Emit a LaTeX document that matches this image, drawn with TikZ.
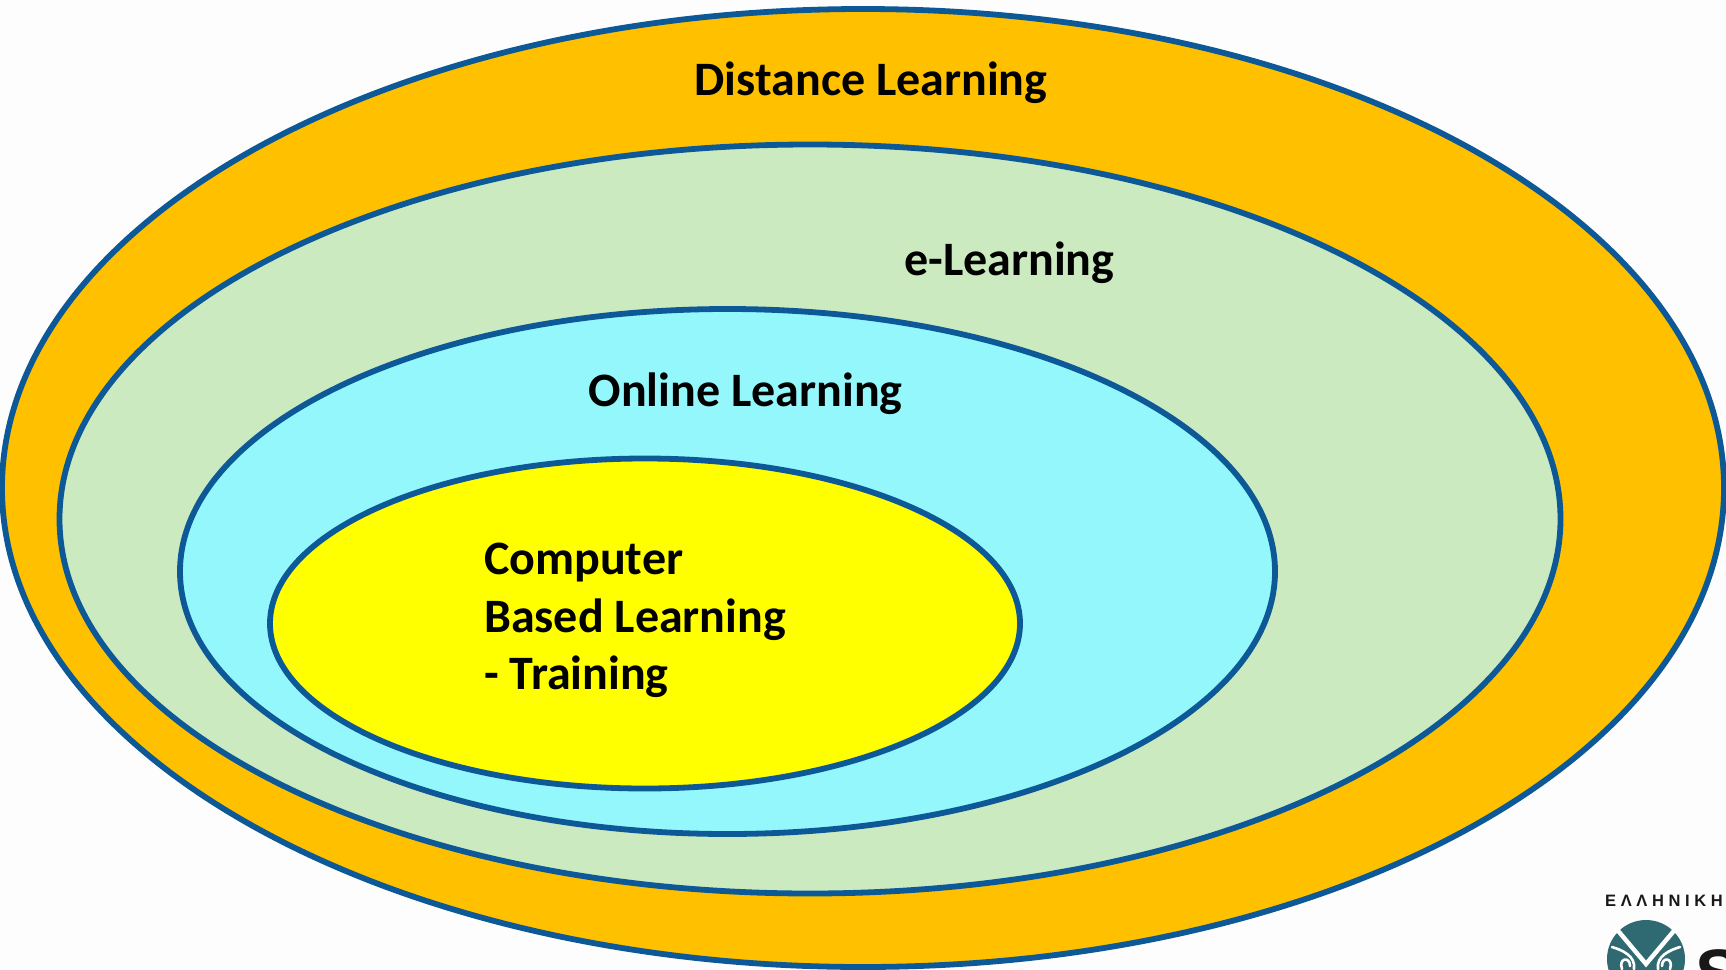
\documentclass[tikz,border=0pt]{standalone}
\usepackage{fontspec}
\setmainfont{Carlito}
\newfontfamily\logofont[LetterSpace=28]{Liberation Sans}
\newfontfamily\logobig{Liberation Sans}
\definecolor{bgc}{HTML}{FDFDFD}
\definecolor{edge}{HTML}{0D5896}
\definecolor{cOuter}{HTML}{FFC000}
\definecolor{cE}{HTML}{CCEAC0}
\definecolor{cOn}{HTML}{93F7FC}
\definecolor{cY}{HTML}{FFFF00}
\definecolor{teal}{HTML}{2F6A72}
\definecolor{ink}{HTML}{1A1718}
\tikzset{
  ring/.style={draw=edge,line width=5.8pt},
  lab/.style={font=\fontsize{48}{57.5}\selectfont\bfseries,text=black,inner sep=0pt,anchor=base west,align=left},
  scroll/.style={draw=white,line width=2.6pt,line cap=round}
}
\begin{document}
\begin{tikzpicture}[x=1pt,y=-1pt]
\useasboundingbox (0,0) rectangle (1726,969);
\clip (0,0) rectangle (1726,969);
\fill[bgc] (0,0) rectangle (1726,969);
\draw[ring,fill=cOuter] (863,488) ellipse [x radius=861,y radius=479];
\draw[ring,fill=cE] (810,519) ellipse [x radius=750.5,y radius=374.5];
\draw[ring,fill=cOn] (727.5,571.5) ellipse [x radius=547.5,y radius=262.5];
\draw[ring,fill=cY] (645,623.5) ellipse [x radius=375,y radius=165];
\node[lab] (distance) at (694.5,95) {Distance Learning};
\node[lab] (elearn) at (904,275) {e-Learning};
\node[lab] (online) at (588.5,406.5) {Online Learning};
\node[lab] (computer) at (484,689.5) {Computer\\Based Learning\\- Training};
% logo
\node[font=\fontsize{16.5}{16.5}\selectfont\logofont\bfseries,inner sep=0pt,anchor=base west,text=ink] (logotext) at (1605,906.5) {ΕΛΛΗΝΙΚΗ};
\fill[teal] (1646,959) circle [radius=39];
\draw[white,line width=4.4pt] (1614,926) -- (1646,964) -- (1678,926);
\draw[scroll] (1612,947) .. controls (1622,950) and (1636,956) .. (1634,969);
\draw[scroll] (1622,969) .. controls (1618,958) and (1630,956) .. (1630,966);
\draw[scroll] (1680,947) .. controls (1670,950) and (1656,956) .. (1658,969);
\draw[scroll] (1670,969) .. controls (1674,958) and (1662,956) .. (1662,966);
\node[font=\fontsize{70}{70}\selectfont\logobig\bfseries,inner sep=0pt,anchor=base west,text=ink] (logos) at (1695,998) {S};
\end{tikzpicture}
\end{document}
